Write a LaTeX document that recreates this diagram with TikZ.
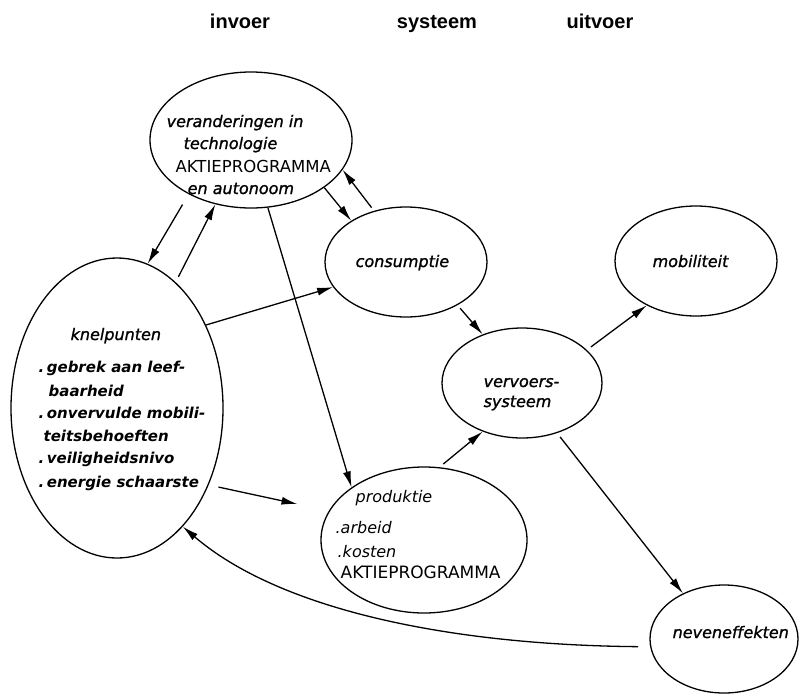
\documentclass[tikz,border=0pt]{standalone}
\usepackage{fontspec}
\newfontfamily\handfont{DejaVu Sans}[FakeBold=1.2]
\newfontfamily\plainfont{DejaVu Sans}
\newfontfamily\headfont{Liberation Sans}
\usetikzlibrary{arrows.meta,shapes.geometric}

\begin{document}
\begin{tikzpicture}[x=1pt,y=-1pt,line width=1.3pt,
  blob/.style n args={2}{ellipse,draw,inner sep=0pt,minimum width=#1,minimum height=#2},
  hand/.style={font=\handfont\itshape\fontsize{16}{18}\selectfont,inner sep=0pt,anchor=base west},
  thin/.style={font=\plainfont\itshape\fontsize{16}{18}\selectfont,inner sep=0pt,anchor=base west},
  caps/.style={font=\plainfont\fontsize{#1}{20}\selectfont,inner sep=0pt,anchor=base west},
  head/.style={font=\headfont\bfseries\fontsize{20}{24}\selectfont,anchor=base},
  arr/.style={-{Latex[length=16pt,width=8pt]}}]
\useasboundingbox (0,0) rectangle (800,694);

\node[head] (invoer) at (240,28) {invoer};
\node[head] (systeem) at (437,28) {systeem};
\node[head] (uitvoer) at (600,28) {uitvoer};

\node[blob={202}{136}] (tech) at (251,140) {};
\node[blob={212}{300}] (knel) at (117,408) {};
\node[blob={162}{110}] (cons) at (406,262) {};
\node[blob={162}{110}] (mob) at (696,261) {};
\node[blob={160}{110}] (verv) at (522,383) {};
\node[blob={206}{146}] (prod) at (424,540) {};
\node[blob={148}{108}] (neven) at (724,639) {};

\foreach \x/\y/\t [count=\i] in %
{166/127/veranderingen in, 183/149/technologie, 187/194/en autonoom} {
   \node[hand] (tech-\i) at (\x,\y) {\t};
}
\node[caps=16.5] (tech-caps) at (175,172) {AKTIEPROGRAMMA};

\node[hand] (knel-0) at (70,340) {knelpunten};
\foreach \x/\y/\t [count=\i] in %
{38/372/.\,gebrek aan leef-, 48/396/baarheid, 38/418/.\,onvervulde mobili-,
 43/441/teitsbehoeften, 38/463/.\,veiligheidsnivo, 38/487/.\,energie schaarste} {
   \node[hand,font=\plainfont\bfseries\itshape\fontsize{15}{16}\selectfont] (knel-\i) at (\x,\y) {\t};
}

\node[hand] (cons-t) at (355,267) {consumptie};
\node[hand] (mob-t) at (652,267) {mobiliteit};
\node[hand] (verv-1) at (483,387) {vervoers-};
\node[hand] (verv-2) at (483,407) {systeem};
\foreach \x/\y/\t [count=\i] in %
{355/502/produktie, 335/533/.arbeid, 337/557/.kosten} {
   \node[thin] (prod-\i) at (\x,\y) {\t};
}
\node[caps=17] (prod-caps) at (340,578) {AKTIEPROGRAMMA};
\node[hand] (neven-t) at (672,638) {neveneffekten};

\draw[arr,shorten <=12pt] (tech.221) -- (knel.78);
\draw[arr,shorten <=6pt] (knel.65) -- (tech.241);
\draw[arr] (tech.-33) -- (cons.143);
\draw[arr,shorten <=4pt] (cons.122) -- (tech.-18);
\draw[arr] (tech.-76) -- (prod.144);
\draw[arr] (knel.43) -- (cons.199);
\draw[arr,shorten <=10pt,shorten >=32pt] (knel.-40) -- (prod.163);
\draw[arr,shorten <=4pt] (cons.-40) -- (verv.129);
\draw[arr,shorten <=5pt] (verv.27) -- (mob.222);
\draw[arr,shorten <=5pt] (prod.78) -- (verv.231);
\draw[arr,shorten <=5pt] (verv.-55) -- (neven.132);
\draw[arr,shorten <=12pt] (neven.186) .. controls (450,645) and (280,610) .. (knel.-61);
\end{tikzpicture}
\end{document}
